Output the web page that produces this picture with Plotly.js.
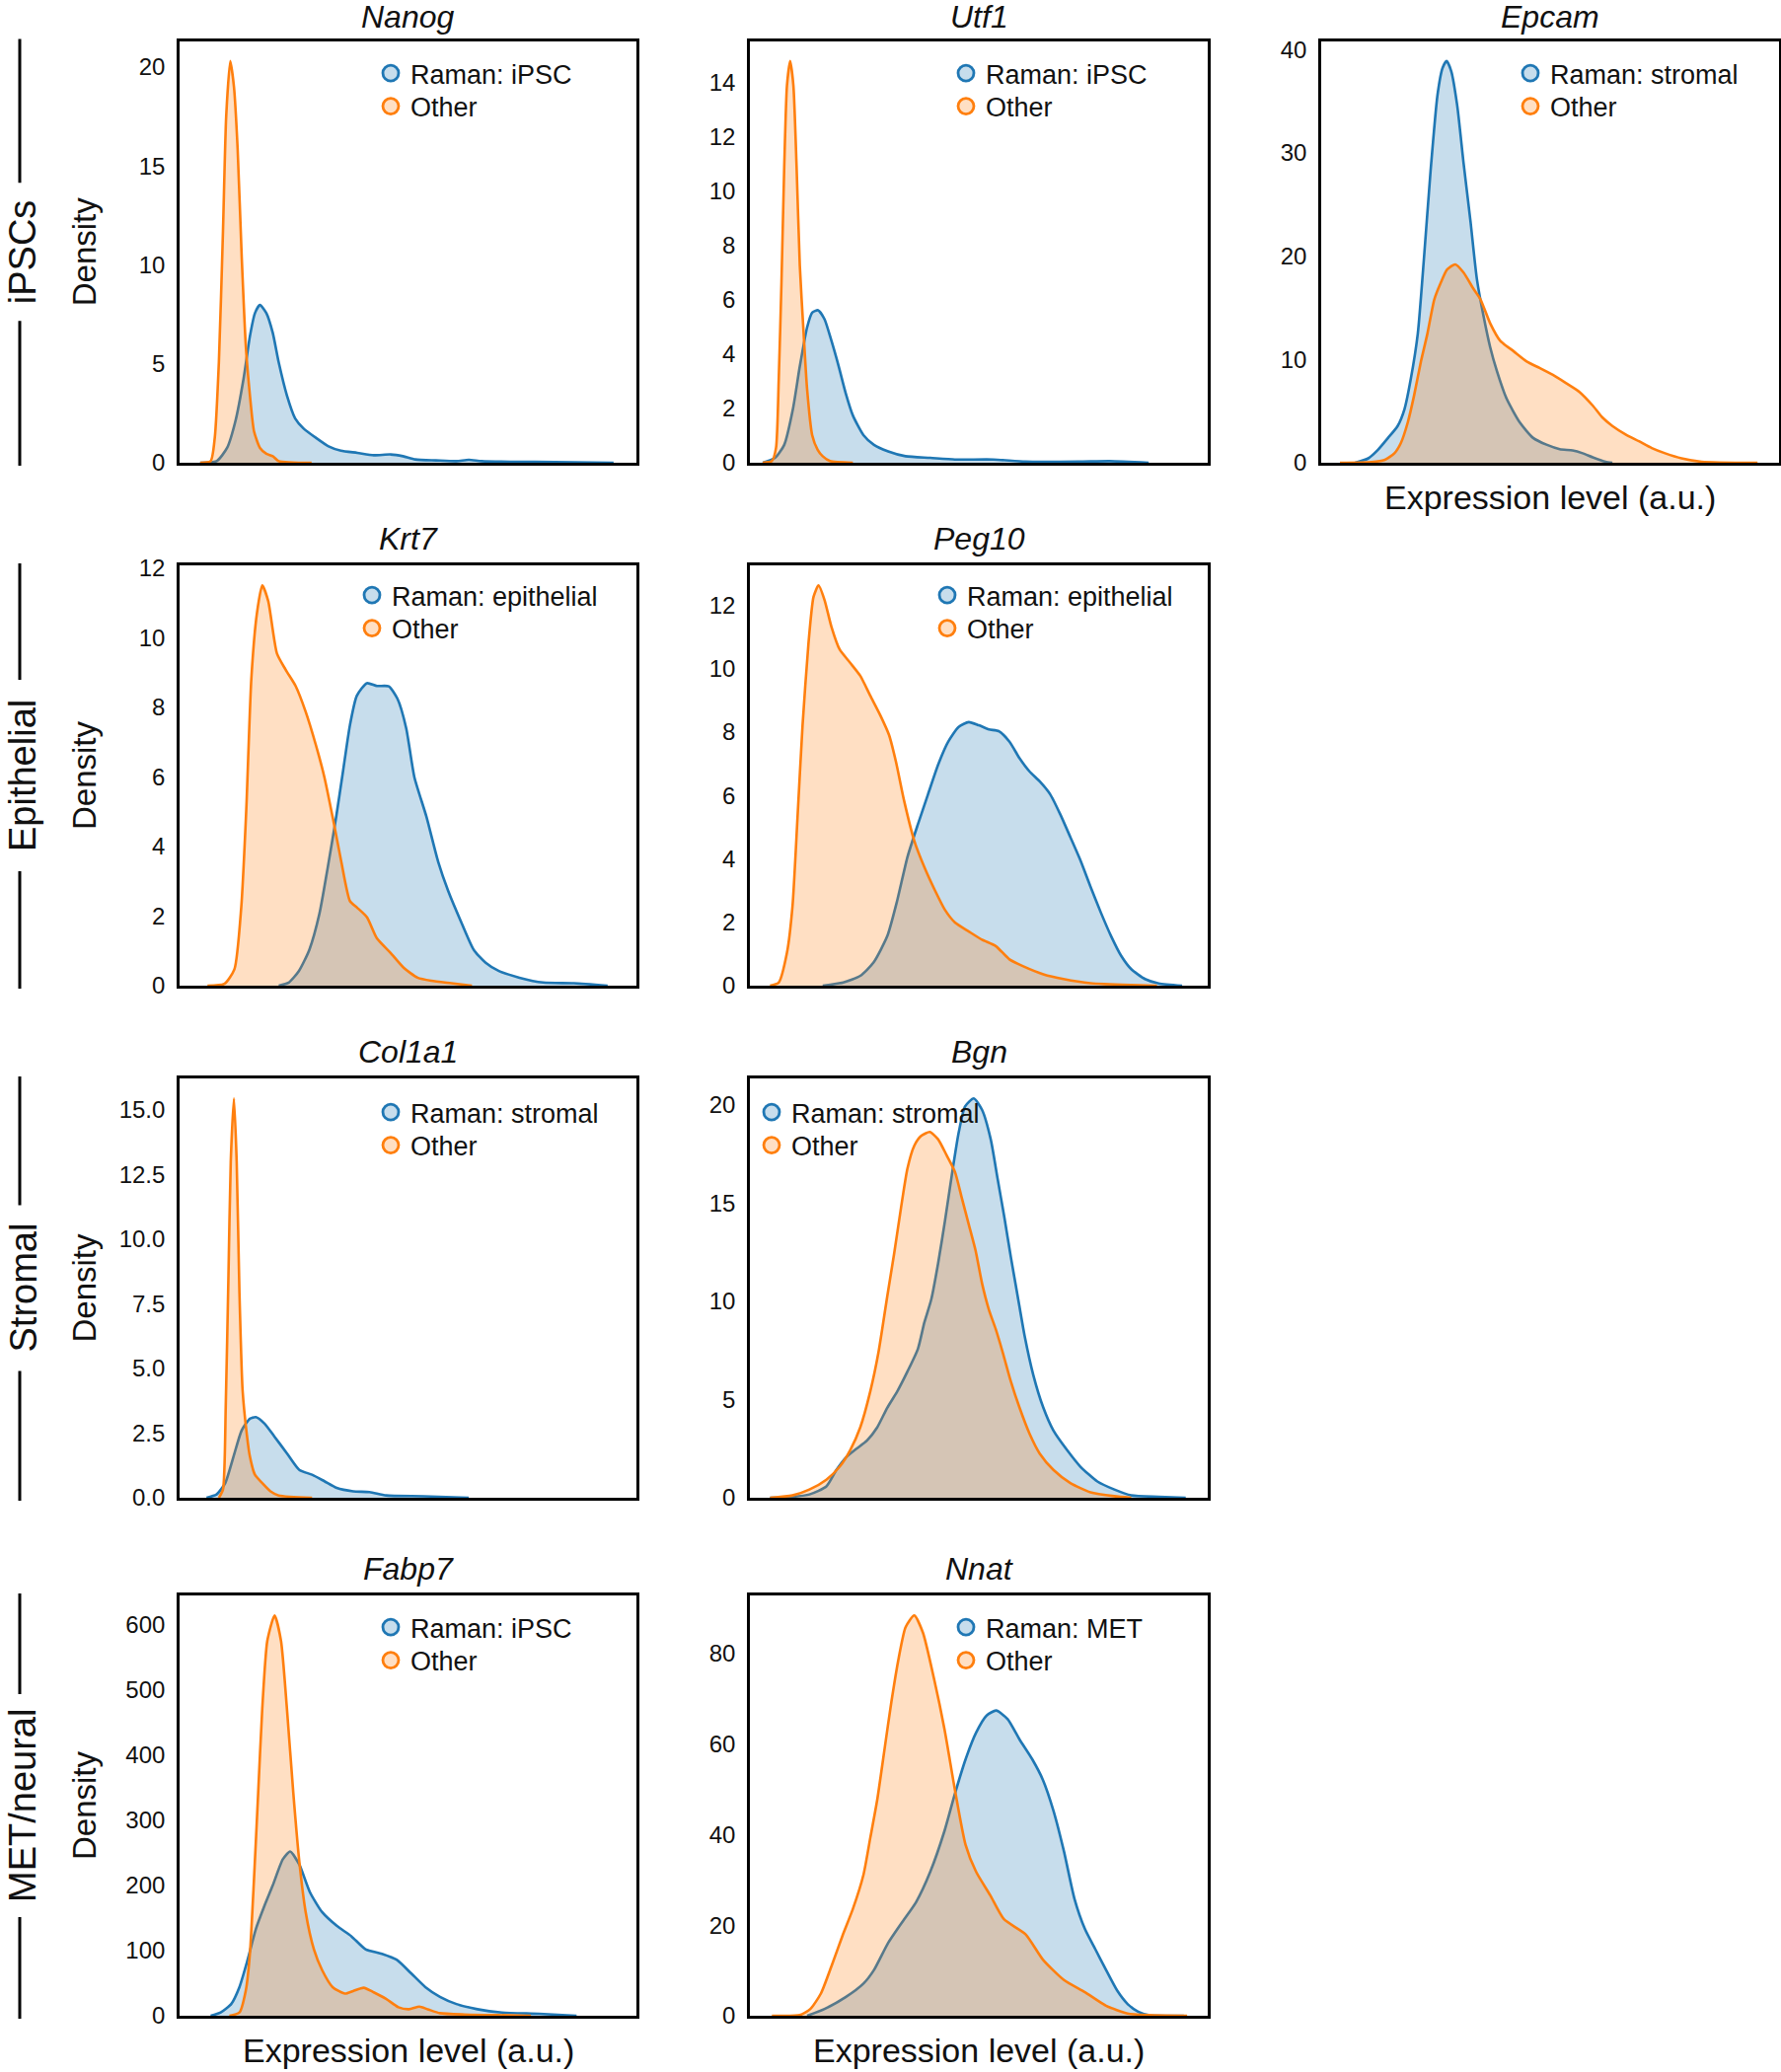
<!DOCTYPE html>
<html>
<head>
<meta charset="utf-8">
<script src="https://cdn.plot.ly/plotly-3.0.1.min.js"></script>
<style>
  html, body { margin: 0; padding: 0; background: #ffffff; }
  #chart { width: 1805px; height: 2100px; }
</style>
</head>
<body>
<div id="chart"></div>
<script>
// ---------------- DATA (x: position along expression axis, 0-100; y: density) ----------------
const geneNames = ['Nanog', 'Utf1', 'Epcam', 'Krt7', 'Peg10', 'Col1a1', 'Bgn', 'Fabp7', 'Nnat'];
const ramanLabels = ['Raman: iPSC', 'Raman: iPSC', 'Raman: stromal', 'Raman: epithelial', 'Raman: epithelial',
                     'Raman: stromal', 'Raman: stromal', 'Raman: iPSC', 'Raman: MET'];
const otherLabel = 'Other';
const rowLabels = ['iPSCs', 'Epithelial', 'Stromal', 'MET/neural'];
const yAxisLabel = 'Density';
const xAxisLabel = 'Expression level (a.u.)';

const nanogRamanX = [4.5, 8.1, 10.4, 12.2, 14.0, 15.4, 16.5, 17.6, 19.0, 20.4, 21.7, 23.5, 25.3, 27.1, 29.9, 32.6, 35.3, 38.9, 42.5, 46.2, 48.9, 51.6, 56.1, 60.6, 63.3, 66.1, 72.4, 77.8, 95.0];
const nanogRamanY = [0, 0.08, 0.75, 2.08, 4.24, 6.4, 7.56, 7.97, 7.56, 6.56, 5.07, 3.4, 2.24, 1.74, 1.25, 0.83, 0.61, 0.5, 0.38, 0.42, 0.33, 0.17, 0.12, 0.08, 0.15, 0.08, 0.05, 0.05, 0];
const nanogOtherX = [4.5, 6.8, 7.7, 8.6, 9.5, 10.2, 11.1, 11.9, 12.7, 13.6, 14.5, 15.4, 16.3, 17.6, 19.0, 20.4, 21.7, 28.9];
const nanogOtherY = [0, 0.08, 1.25, 5.07, 11.7, 17.5, 20.3, 19.0, 15.9, 10.4, 5.9, 3.4, 1.58, 0.75, 0.45, 0.33, 0.08, 0];

const utf1RamanX = [2.8, 5.5, 7.5, 9.4, 10.9, 12.5, 13.6, 14.9, 16.3, 17.8, 19.4, 20.9, 22.5, 24.8, 27.1, 30.2, 34.0, 39.4, 44.8, 53.2, 60.2, 71.7, 78.6, 87.1];
const utf1RamanY = [0, 0.18, 0.66, 1.98, 3.55, 4.99, 5.53, 5.62, 5.29, 4.5, 3.55, 2.58, 1.74, 1.02, 0.66, 0.42, 0.24, 0.18, 0.12, 0.12, 0.04, 0.04, 0.06, 0];
const utf1OtherX = [2.8, 4.8, 5.7, 6.3, 6.9, 7.5, 8.1, 8.8, 9.5, 10.2, 10.9, 11.7, 12.5, 13.6, 14.8, 15.9, 17.5, 22.5];
const utf1OtherY = [0, 0.06, 0.54, 3.06, 6.67, 10.9, 13.9, 14.8, 13.9, 10.9, 7.27, 4.87, 2.7, 1.02, 0.48, 0.24, 0.06, 0];

const epcamRamanX = [7.4, 10.3, 12.4, 14.6, 16.7, 18.2, 19.6, 21.1, 22.5, 23.9, 25.4, 26.5, 27.4, 28.4, 29.7, 31.1, 32.6, 34.0, 35.5, 36.9, 38.4, 40.5, 43.4, 46.3, 49.2, 52.1, 54.9, 57.1, 59.3, 62.1, 63.6];
const epcamRamanY = [0, 0.43, 1.25, 2.4, 3.56, 5.2, 8.18, 12.5, 20.1, 28.3, 35.6, 38.2, 38.88, 37.9, 34.6, 29.0, 23.4, 17.8, 14.1, 11.2, 8.84, 6.2, 3.89, 2.4, 1.75, 1.32, 1.19, 0.92, 0.53, 0.1, 0];
const epcamOtherX = [4.1, 11.0, 13.8, 16.0, 17.4, 18.9, 20.3, 21.8, 23.2, 24.7, 26.1, 27.5, 29.3, 31.1, 33.3, 34.8, 36.9, 39.1, 42.0, 44.8, 47.7, 50.6, 53.5, 56.4, 59.3, 61.4, 63.6, 66.5, 69.4, 72.2, 75.1, 78.7, 83.1, 95.3];
const epcamOtherY = [0, 0.07, 0.26, 0.92, 1.91, 3.89, 6.53, 9.83, 12.5, 15.8, 17.4, 18.7, 19.2, 18.4, 16.8, 15.8, 13.5, 11.8, 10.8, 9.83, 9.17, 8.5, 7.7, 6.86, 5.54, 4.39, 3.56, 2.74, 2.08, 1.42, 0.92, 0.43, 0.1, 0];

const krt7RamanX = [21.7, 23.9, 26.1, 28.4, 30.6, 32.4, 34.3, 35.8, 37.3, 38.8, 41.0, 43.2, 45.8, 47.7, 49.6, 51.4, 54.0, 56.6, 58.8, 61.8, 64.4, 67.0, 69.9, 74.4, 79.6, 86.3, 93.7];
const krt7RamanY = [0, 0.09, 0.42, 1.03, 2.06, 3.37, 4.87, 6.18, 7.49, 8.33, 8.69, 8.61, 8.6, 8.24, 7.40, 5.99, 4.87, 3.56, 2.72, 1.78, 1.03, 0.66, 0.42, 0.23, 0.09, 0.07, 0];
const krt7OtherX = [6.1, 9.8, 12.0, 13.5, 14.6, 15.7, 16.9, 18.1, 19.4, 21.3, 23.2, 25.4, 27.6, 29.8, 31.7, 33.6, 35.4, 37.3, 38.8, 41.0, 43.2, 46.2, 49.1, 52.1, 55.1, 59.5, 64.0];
const krt7OtherY = [0, 0.05, 0.47, 2.25, 5.06, 8.8, 10.67, 11.5, 11.05, 9.55, 9.08, 8.61, 7.87, 6.93, 5.99, 4.78, 3.56, 2.43, 2.25, 1.97, 1.36, 0.94, 0.51, 0.23, 0.14, 0.07, 0];

const peg10RamanX = [15.9, 20.4, 24.1, 27.0, 30.0, 32.2, 34.4, 36.7, 38.9, 41.1, 43.3, 45.6, 47.8, 50.0, 52.2, 54.4, 56.7, 58.9, 61.1, 63.3, 65.6, 67.8, 70.0, 72.2, 74.4, 76.7, 78.9, 81.1, 83.3, 86.3, 89.3, 94.4];
const peg10RamanY = [0, 0.1, 0.31, 0.73, 1.56, 2.7, 4.05, 5.09, 6.03, 6.96, 7.69, 8.16, 8.31, 8.21, 8.08, 8.02, 7.69, 7.17, 6.75, 6.44, 6.03, 5.4, 4.68, 3.95, 3.12, 2.29, 1.56, 0.94, 0.52, 0.21, 0.07, 0];
const peg10OtherX = [4.4, 6.3, 8.1, 9.3, 10.4, 11.5, 12.8, 13.9, 15.0, 16.3, 17.8, 19.6, 21.9, 24.1, 26.3, 28.5, 30.4, 31.9, 33.7, 35.9, 38.1, 40.4, 42.6, 44.8, 47.8, 50.7, 53.7, 56.7, 59.6, 64.1, 68.5, 74.4, 83.3, 88.9];
const peg10OtherY = [0, 0.1, 1.04, 2.49, 5.3, 8.2, 10.8, 12.26, 12.62, 12.16, 11.32, 10.6, 10.18, 9.77, 9.14, 8.52, 7.9, 7.06, 5.82, 4.57, 3.74, 3.01, 2.39, 1.99, 1.71, 1.45, 1.25, 0.83, 0.62, 0.36, 0.21, 0.08, 0.02, 0];

const col1a1RamanX = [5.9, 8.1, 10.0, 11.8, 13.6, 15.4, 16.7, 18.6, 20.8, 23.5, 26.2, 29.0, 31.7, 34.4, 38.0, 41.6, 45.2, 53.4, 63.3];
const col1a1RamanY = [0, 0.13, 0.57, 1.59, 2.61, 3.06, 3.12, 2.87, 2.36, 1.72, 1.08, 0.89, 0.64, 0.38, 0.25, 0.22, 0.09, 0.06, 0];
const col1a1OtherX = [8.6, 9.5, 10.1, 10.7, 11.2, 11.9, 12.5, 13.1, 13.8, 14.7, 15.4, 16.5, 18.1, 19.9, 21.7, 29.0];
const col1a1OtherY = [0, 0.32, 3.5, 8.6, 13.0, 15.45, 13.0, 7.96, 4.14, 2.48, 1.59, 0.89, 0.57, 0.25, 0.09, 0];

const bgnRamanX = [4.4, 9.3, 13.0, 16.7, 18.9, 21.1, 23.3, 25.6, 27.8, 30.0, 32.2, 34.4, 36.7, 38.1, 39.6, 41.1, 42.6, 44.1, 45.6, 47.0, 48.9, 50.7, 52.6, 54.1, 55.6, 57.0, 58.5, 60.0, 61.9, 64.1, 66.3, 69.3, 72.2, 75.9, 79.6, 83.3, 89.3, 95.2];
const bgnRamanY = [0, 0.05, 0.17, 0.58, 1.42, 2.08, 2.5, 2.92, 3.58, 4.58, 5.42, 6.42, 7.58, 8.92, 10.08, 11.92, 14.08, 16.42, 18.58, 19.92, 20.33, 19.75, 18.25, 16.25, 14.25, 12.25, 10.25, 8.25, 6.25, 4.58, 3.42, 2.42, 1.58, 0.83, 0.42, 0.12, 0.05, 0];
const bgnOtherX = [4.4, 9.3, 13.0, 16.7, 19.6, 21.9, 24.1, 26.3, 28.1, 30.0, 31.5, 33.0, 34.4, 35.9, 37.4, 39.3, 41.1, 43.0, 44.8, 46.3, 47.8, 49.3, 50.7, 52.2, 53.7, 55.2, 57.0, 58.9, 61.1, 63.3, 66.3, 70.0, 74.4, 79.6, 83.3];
const bgnOtherY = [0, 0.12, 0.42, 0.92, 1.58, 2.42, 3.58, 5.42, 7.42, 10.25, 12.42, 14.75, 16.75, 17.92, 18.42, 18.62, 18.25, 17.42, 16.58, 15.25, 13.92, 12.58, 10.92, 9.58, 8.58, 7.42, 5.92, 4.58, 3.25, 2.25, 1.42, 0.75, 0.28, 0.08, 0];

const fabp7RamanX = [6.8, 9.0, 11.3, 13.1, 14.9, 16.7, 18.6, 20.4, 22.6, 24.2, 26.2, 28.5, 31.2, 34.4, 37.6, 40.7, 44.3, 47.5, 50.7, 53.8, 57.0, 60.6, 65.2, 70.6, 78.7, 86.9];
const fabp7RamanY = [0, 5, 18, 44, 86, 133, 169, 200, 240, 252, 232, 190, 159, 138, 122, 102, 95, 86, 65, 44, 29, 18, 10, 5, 3, 0];
const fabp7OtherX = [10.9, 13.1, 14.5, 15.4, 16.3, 17.2, 18.1, 19.2, 20.8, 22.2, 23.5, 24.9, 26.2, 27.6, 29.4, 31.2, 33.5, 36.2, 38.0, 40.3, 42.5, 45.2, 47.9, 50.2, 52.5, 54.3, 57.0, 62.4, 69.7, 76.9];
const fabp7OtherY = [0, 5, 39, 96, 211, 341, 471, 575, 614, 575, 471, 341, 237, 159, 102, 70, 44, 34, 38, 43, 36, 26, 13, 10, 14, 10, 4, 2, 1, 0];

const nnatRamanX = [12.5, 16.3, 20.9, 24.8, 27.1, 30.2, 33.2, 36.3, 39.4, 42.5, 44.8, 47.1, 49.4, 51.7, 53.8, 56.3, 58.9, 61.7, 64.0, 66.3, 68.6, 70.9, 73.2, 75.5, 77.8, 80.2, 82.5, 84.8, 87.1, 94.8];
const nnatRamanY = [0, 1.5, 4.1, 7.1, 10.1, 16.1, 20.6, 25.1, 31.8, 40.8, 49.1, 56.6, 62.5, 66.3, 67.4, 65.5, 61.0, 56.6, 52.1, 45.3, 36.3, 25.8, 19.1, 14.6, 10.1, 5.6, 2.6, 0.9, 0.15, 0];
const nnatOtherX = [4.8, 10.9, 13.2, 15.5, 17.8, 20.2, 22.5, 24.8, 26.3, 27.8, 29.4, 30.9, 32.5, 34.0, 35.9, 37.8, 40.2, 42.5, 44.8, 47.1, 49.4, 52.5, 55.5, 60.2, 64.0, 68.6, 73.2, 77.8, 82.5, 87.1, 95.5];
const nnatOtherY = [0, 0.15, 1.5, 4.9, 10.9, 17.6, 23.6, 31.1, 39.3, 47.6, 58.8, 69.3, 79.0, 85.8, 88.4, 84.6, 74.5, 63.3, 49.8, 37.8, 31.8, 26.6, 21.3, 18.0, 12.4, 7.9, 5.2, 2.2, 0.5, 0.15, 0];

const yTickValues = [
  [0, 5, 10, 15, 20],
  [0, 2, 4, 6, 8, 10, 12, 14],
  [0, 10, 20, 30, 40],
  [0, 2, 4, 6, 8, 10, 12],
  [0, 2, 4, 6, 8, 10, 12],
  [0, 2.5, 5, 7.5, 10, 12.5, 15],
  [0, 5, 10, 15, 20],
  [0, 100, 200, 300, 400, 500, 600],
  [0, 20, 40, 60, 80]
];

const seriesData = [
  [nanogRamanX, nanogRamanY, nanogOtherX, nanogOtherY],
  [utf1RamanX, utf1RamanY, utf1OtherX, utf1OtherY],
  [epcamRamanX, epcamRamanY, epcamOtherX, epcamOtherY],
  [krt7RamanX, krt7RamanY, krt7OtherX, krt7OtherY],
  [peg10RamanX, peg10RamanY, peg10OtherX, peg10OtherY],
  [col1a1RamanX, col1a1RamanY, col1a1OtherX, col1a1OtherY],
  [bgnRamanX, bgnRamanY, bgnOtherX, bgnOtherY],
  [fabp7RamanX, fabp7RamanY, fabp7OtherX, fabp7OtherY],
  [nnatRamanX, nnatRamanY, nnatOtherX, nnatOtherY]
];

// ---------------- LAYOUT / STYLE ----------------
const W = 1805, H = 2100;
const FONT = 'Liberation Sans, Arial, Helvetica, sans-serif';
const BLUE = '#1f77b4', ORANGE = '#ff7f0e';
const BLUE_FILL = 'rgba(31,119,180,0.25)', ORANGE_FILL = 'rgba(255,127,14,0.25)';

const colX = [[182, 645], [760, 1224], [1339, 1803]];
const rowY = [[41.5, 469], [573, 999], [1093, 1518], [1617, 2043]];
const panelPos = [[0,0],[1,0],[2,0],[0,1],[1,1],[0,2],[1,2],[0,3],[1,3]]; // [col,row]
const legendTextX = [416, 999, 1571, 397, 980, 416, 802, 416, 999];
const legendRowCY = [76, 605, 1129, 1651];
const legendRowStep = 33.5;
const titleShift = [4, 7, 7, 7];
const rowLabelGap = [70, 97, 84, 113];
const xLabelPanels = [2, 7, 8];

const px = v => v / W;
const py = v => 1 - v / H;

const traces = [];
const layout = {
  width: W, height: H,
  margin: {l: 0, r: 0, t: 0, b: 0},
  paper_bgcolor: '#ffffff', plot_bgcolor: '#ffffff',
  font: {family: FONT, color: '#111111', size: 24},
  showlegend: true,
  hovermode: false,
  annotations: [],
  shapes: []
};

let legendCount = 0;
function makeLegend(textX, centerY) {
  legendCount += 1;
  const name = legendCount === 1 ? 'legend' : 'legend' + legendCount;
  layout[name] = {
    x: px(textX - 40), y: py(centerY - 26),
    xanchor: 'left', yanchor: 'top',
    bgcolor: 'rgba(0,0,0,0)', borderwidth: 0,
    font: {family: FONT, size: 27, color: '#111111'},
    itemsizing: 'trace'
  };
  return name;
}

geneNames.forEach((gene, i) => {
  const [c, r] = panelPos[i];
  const xs = colX[c], ys = rowY[r];
  const suffix = i === 0 ? '' : String(i + 1);
  const xa = 'x' + suffix, ya = 'y' + suffix;
  const [rx, ry, ox, oy] = seriesData[i];
  const ymax = 1.05 * Math.max(...ry, ...oy);

  traces.push({
    type: 'scatter', mode: 'lines', x: rx, y: ry, xaxis: xa, yaxis: ya,
    fill: 'tozeroy', fillcolor: BLUE_FILL,
    line: {color: BLUE, width: 2.6, shape: 'spline', smoothing: 0.6},
    showlegend: false, hoverinfo: 'skip'
  });
  traces.push({
    type: 'scatter', mode: 'lines', x: ox, y: oy, xaxis: xa, yaxis: ya,
    fill: 'tozeroy', fillcolor: ORANGE_FILL,
    line: {color: ORANGE, width: 2.6, shape: 'spline', smoothing: 0.6},
    showlegend: false, hoverinfo: 'skip'
  });
  // legend entries (circle markers, like the reference)
  const legA = makeLegend(legendTextX[i], legendRowCY[r]);
  const legB = makeLegend(legendTextX[i], legendRowCY[r] + legendRowStep);
  traces.push({
    type: 'scatter', mode: 'markers', x: [null], y: [null], xaxis: xa, yaxis: ya,
    name: ramanLabels[i], legend: legA,
    marker: {symbol: 'circle', size: 16, color: BLUE_FILL, line: {color: BLUE, width: 2.8}}
  });
  traces.push({
    type: 'scatter', mode: 'markers', x: [null], y: [null], xaxis: xa, yaxis: ya,
    name: otherLabel, legend: legB,
    marker: {symbol: 'circle', size: 16, color: ORANGE_FILL, line: {color: ORANGE, width: 2.8}}
  });

  layout['xaxis' + suffix] = {
    domain: [px(xs[0]), px(xs[1])], anchor: ya,
    range: [0, 100], showticklabels: false, ticks: '',
    showgrid: false, zeroline: false,
    showline: true, mirror: true, linecolor: '#000000', linewidth: 2.8,
    layer: 'below traces', fixedrange: true
  };
  layout['yaxis' + suffix] = {
    domain: [py(ys[1]), py(ys[0])], anchor: xa,
    range: [0, ymax], tickvals: yTickValues[i],
    tickformat: i === 5 ? '.1f' : '',
    ticks: 'outside', ticklen: 7, tickcolor: 'rgba(0,0,0,0)',
    tickfont: {family: FONT, size: 24, color: '#111111'},
    showgrid: false, zeroline: false,
    showline: true, mirror: true, linecolor: '#000000', linewidth: 2.8,
    layer: 'below traces', fixedrange: true
  };

  // panel title (gene name, italic)
  layout.annotations.push({
    text: gene, xref: 'paper', yref: 'paper',
    x: px((xs[0] + xs[1]) / 2), y: py(ys[0]), xanchor: 'center', yanchor: 'bottom',
    yshift: titleShift[r], showarrow: false,
    font: {family: FONT, size: 32, style: 'italic', color: '#111111'}
  });

  // Density label on first column
  if (c === 0) {
    layout.annotations.push({
      text: yAxisLabel, xref: 'paper', yref: 'paper',
      x: px(85), y: py((ys[0] + ys[1]) / 2), xanchor: 'center', yanchor: 'middle',
      textangle: -90, showarrow: false,
      font: {family: FONT, size: 33, color: '#111111'}
    });
  }
  if (xLabelPanels.includes(i)) {
    layout.annotations.push({
      text: xAxisLabel, xref: 'paper', yref: 'paper',
      x: px((xs[0] + xs[1]) / 2), y: py(ys[1] + 35), xanchor: 'center', yanchor: 'middle',
      showarrow: false,
      font: {family: FONT, size: 34, color: '#111111'}
    });
  }
});

// row group labels with bracket lines
rowLabels.forEach((lab, r) => {
  const [t, b] = rowY[r];
  const cy = (t + b) / 2;
  const g = rowLabelGap[r];
  layout.annotations.push({
    text: lab, xref: 'paper', yref: 'paper',
    x: px(1), y: py(cy), xanchor: 'left', yanchor: 'middle',
    textangle: -90, showarrow: false, borderpad: 0,
    font: {family: FONT, size: 38, color: '#111111'}
  });
  layout.shapes.push({type: 'line', xref: 'paper', yref: 'paper',
    x0: px(20), x1: px(20), y0: py(t - 2), y1: py(cy - g), line: {color: '#000000', width: 3}});
  layout.shapes.push({type: 'line', xref: 'paper', yref: 'paper',
    x0: px(20), x1: px(20), y0: py(cy + g), y1: py(b + 3), line: {color: '#000000', width: 3}});
});

Plotly.newPlot('chart', traces, layout, {staticPlot: true, displayModeBar: false});
</script>
</body>
</html>
